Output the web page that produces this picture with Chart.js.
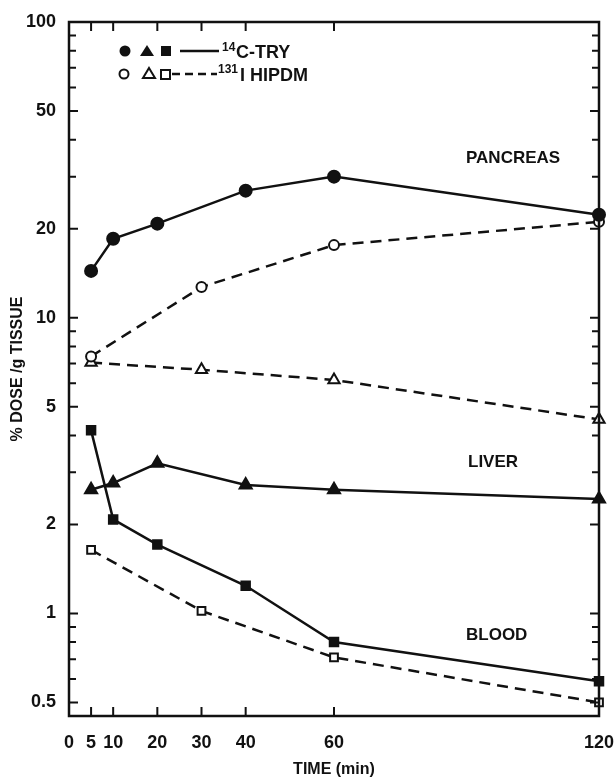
<!DOCTYPE html>
<html>
<head>
<meta charset="utf-8">
<script src="https://cdn.jsdelivr.net/npm/chart.js@4"></script>
<style>
  html, body { margin: 0; padding: 0; background: #fff; }
  #wrap { width: 616px; height: 783px; }
</style>
</head>
<body>
<div id="wrap"><canvas id="dose_chart" width="616" height="783"></canvas></div>
<script>
// time points (min)
const timesTry = [5, 10, 20, 40, 60, 120];
const timesHipdm = [5, 30, 60, 120];

// % dose / g tissue
const pancreasTry = [14.4, 18.5, 20.8, 26.9, 30.0, 22.3];
const pancreasHipdm = [7.4, 12.7, 17.6, 21.1];
const liverTry = [2.62, 2.76, 3.22, 2.72, 2.62, 2.44];
const liverHipdm = [7.05, 6.67, 6.16, 4.53];
const bloodTry = [4.16, 2.08, 1.71, 1.24, 0.80, 0.59];
const bloodHipdm = [1.64, 1.02, 0.71, 0.50];

const xTicks = [0, 5, 10, 20, 30, 40, 60, 120];
const yLabels = [0.5, 1, 2, 5, 10, 20, 50, 100];
const yTicks = [0.5, 0.6, 0.7, 0.8, 0.9, 1, 2, 3, 4, 5, 6, 7, 8, 9, 10, 20, 30, 40, 50, 60, 70, 80, 90, 100];

const INK = '#111';
const FAMILY = '"Liberation Sans", Arial, sans-serif';
const FONT = 'bold 17px ' + FAMILY;

function pts(xs, ys) {
    return xs.map((x, i) => ({x: x, y: ys[i]}));
}

function series(label, xs, ys, style, filled, dashed, radius) {
    return {
        label: label,
        data: pts(xs, ys),
        borderColor: INK,
        borderWidth: 2.5,
        borderDash: dashed ? [11, 7] : [],
        pointStyle: style,
        pointRadius: radius,
        pointBorderWidth: 2,
        pointBackgroundColor: filled ? INK : '#fff',
        pointBorderColor: INK,
        clip: false,
        tension: 0
    };
}

// frame, inward ticks, legend and organ labels
const decorations = {
    id: 'decorations',
    afterDraw(chart) {
        const c = chart.ctx;
        const a = chart.chartArea;
        const xs = chart.scales.x, ys = chart.scales.y;
        c.save();
        c.strokeStyle = INK;
        c.lineWidth = 2.5;
        c.strokeRect(a.left, a.top, a.right - a.left, a.bottom - a.top);
        c.lineWidth = 2;
        c.beginPath();
        xTicks.forEach(v => {
            const px = xs.getPixelForValue(v);
            if (v === 0) return;
            c.moveTo(px, a.bottom); c.lineTo(px, a.bottom - 9);
            c.moveTo(px, a.top); c.lineTo(px, a.top + 9);
        });
        yTicks.forEach(v => {
            const py = ys.getPixelForValue(v);
            const len = yLabels.includes(v) ? 9 : 7;
            c.moveTo(a.left, py); c.lineTo(a.left + len, py);
            c.moveTo(a.right, py); c.lineTo(a.right - len, py);
        });
        c.stroke();

        // legend
        c.fillStyle = INK;
        c.lineWidth = 2.5;
        const r1 = 51, r2 = 74;
        c.beginPath(); c.arc(125, r1, 5.5, 0, Math.PI * 2); c.fill();
        c.beginPath(); c.moveTo(147, r1 - 6); c.lineTo(154, r1 + 5); c.lineTo(140, r1 + 5); c.closePath(); c.fill();
        c.fillRect(161, r1 - 5, 10, 10);
        c.beginPath(); c.moveTo(180, r1); c.lineTo(219, r1); c.stroke();
        c.lineWidth = 2;
        c.beginPath(); c.arc(124, r2, 4.5, 0, Math.PI * 2); c.stroke();
        c.beginPath(); c.moveTo(149, r2 - 6); c.lineTo(155, r2 + 4); c.lineTo(143, r2 + 4); c.closePath(); c.stroke();
        c.strokeRect(161, r2 - 4, 9, 9);
        c.lineWidth = 2.5;
        c.setLineDash([8, 5]);
        c.beginPath(); c.moveTo(172, r2); c.lineTo(217, r2); c.stroke();
        c.setLineDash([]);

        c.textBaseline = 'alphabetic';
        c.textAlign = 'left';
        c.font = 'bold 12px ' + FAMILY;
        c.fillText('14', 222, r1);
        c.fillText('131', 218, r2 - 1);
        c.font = 'bold 18px ' + FAMILY;
        c.fillText('C-TRY', 236, r1 + 7);
        c.fillText('I HIPDM', 240, r2 + 7);

        c.font = FONT;
        c.fillText('PANCREAS', 466, 163);
        c.fillText('LIVER', 468, 467);
        c.fillText('BLOOD', 466, 640);
        c.restore();
    }
};

const ctx = document.getElementById('dose_chart').getContext('2d');
const doseChart = new Chart(ctx, {
    type: 'line',
    data: {
        datasets: [
            series('Pancreas 14C-TRY', timesTry, pancreasTry, 'circle', true, false, 6),
            series('Pancreas 131I HIPDM', timesHipdm, pancreasHipdm, 'circle', false, true, 5),
            series('Liver 14C-TRY', timesTry, liverTry, 'triangle', true, false, 7),
            series('Liver 131I HIPDM', timesHipdm, liverHipdm, 'triangle', false, true, 6.5),
            series('Blood 14C-TRY', timesTry, bloodTry, 'rect', true, false, 6),
            series('Blood 131I HIPDM', timesHipdm, bloodHipdm, 'rect', false, true, 5.5)
        ]
    },
    options: {
        responsive: false,
        animation: false,
        layout: { padding: { top: 22, right: 17, left: 0, bottom: 0 } },
        plugins: {
            legend: { display: false },
            tooltip: { enabled: false }
        },
        scales: {
            x: {
                type: 'linear',
                min: 0,
                max: 120,
                afterBuildTicks: s => { s.ticks = xTicks.map(v => ({value: v})); },
                afterFit: s => { s.height = 67; s.paddingLeft = 0; s.paddingRight = 0; },
                grid: { display: false },
                border: { display: false },
                ticks: {
                    autoSkip: false,
                    maxRotation: 0,
                    padding: 8,
                    color: INK,
                    font: { family: FAMILY, size: 18, weight: 'bold' }
                },
                title: {
                    display: true,
                    text: 'TIME (min)',
                    color: INK,
                    padding: { top: 12 },
                    font: { family: FAMILY, size: 16, weight: 'bold' }
                }
            },
            y: {
                type: 'logarithmic',
                min: 0.45,
                max: 100,
                afterBuildTicks: s => { s.ticks = yTicks.map(v => ({value: v})); },
                afterFit: s => { s.width = 69; s.paddingTop = 0; s.paddingBottom = 0; },
                grid: { display: false },
                border: { display: false },
                ticks: {
                    autoSkip: false,
                    padding: 5,
                    color: INK,
                    font: { family: FAMILY, size: 18, weight: 'bold' },
                    callback: v => yLabels.includes(v) ? String(v) : ''
                },
                title: {
                    display: true,
                    text: '% DOSE /g TISSUE',
                    color: INK,
                    padding: { top: 8, bottom: 0 },
                    font: { family: FAMILY, size: 16, weight: 'bold' }
                }
            }
        }
    },
    plugins: [decorations]
});
</script>
</body>
</html>
